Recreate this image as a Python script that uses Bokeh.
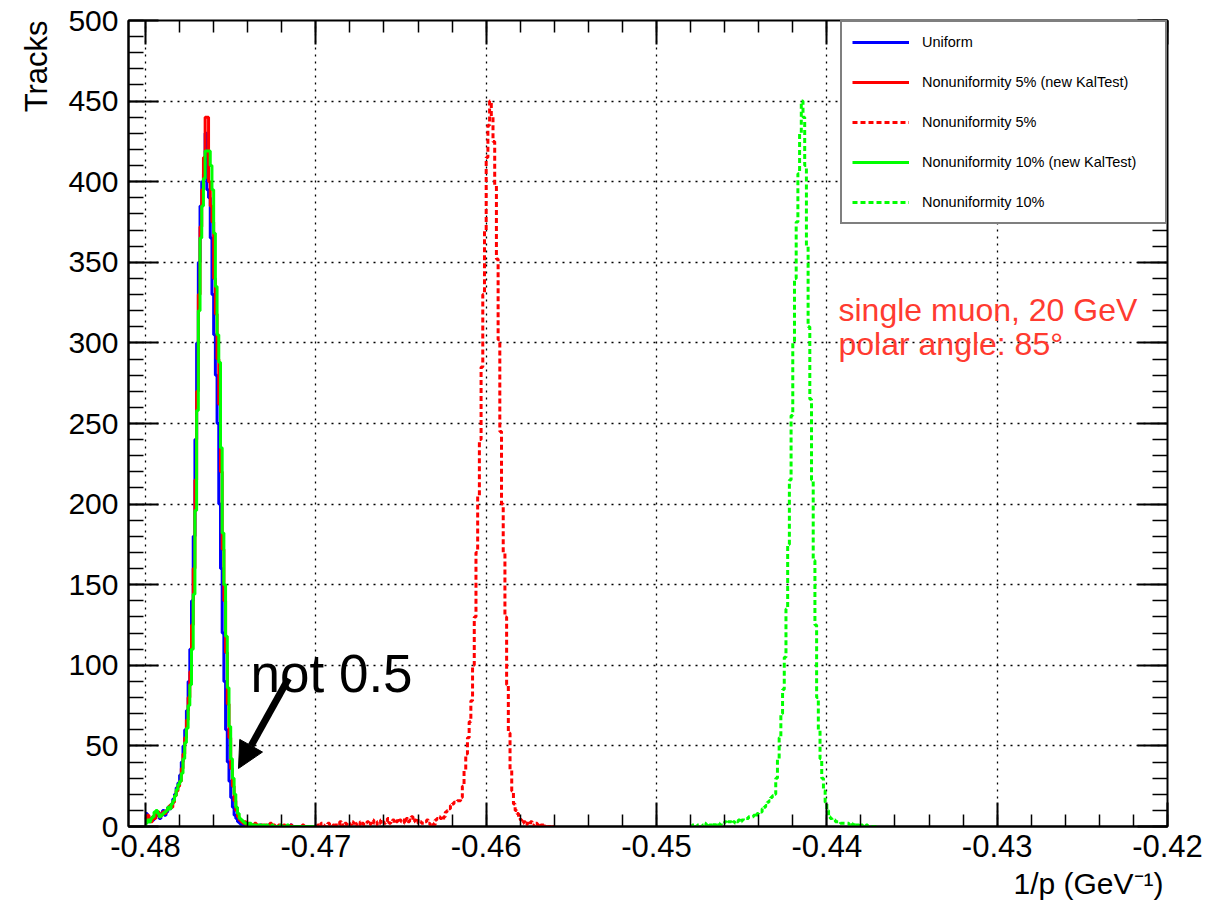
import numpy as np
from bokeh.plotting import figure
from bokeh.models import (Range1d, LinearAxis, FixedTicker, CustomJSTickFormatter,
                          Legend, LegendItem, Label, Arrow, NormalHead, Title)
from bokeh.embed import file_html
from bokeh.resources import INLINE

# ---------------- data ----------------
bin_width = 0.0001

uniform_start = -0.4800
uniform_counts = [
    8, 6, 3, 5, 4, 6, 9, 7, 5, 8, 10, 7, 9, 12, 11,
    14, 17, 20, 24, 27,
    32, 40, 50, 60, 72, 90, 110, 140, 180, 240,
    300, 350, 385, 400, 405, 430, 395, 390, 365, 330,
    305, 280, 250, 200, 160, 120, 90, 60, 40, 28,
    18, 12, 7, 5, 3, 2, 1, 2, 1, 0,
    1, 0, 0, 1, 0, 0, 0, 1, 0, 0,
    0, 0, 1, 0, 0, 0, 0, 0, 0, 0,
    0, 0, 0, 0, 0, 1, 0, 0, 0, 0,
    0, 0, 0, 0, 0, 0, 0, 0, 0, 0,
]

kal5_start = -0.4800
kal5_counts = [
    4, 7, 5, 3, 6, 5, 8, 9, 6, 7, 9, 8, 10, 11, 13,
    12, 15, 19, 22, 25,
    28, 36, 45, 55, 66, 80, 96, 125, 160, 215,
    270, 330, 372, 395, 415, 440, 440, 400, 385, 375,
    340, 318, 290, 262, 220, 172, 140, 108, 76, 55,
    36, 25, 16, 10, 6, 4, 3, 2, 3, 1,
    2, 1, 1, 0, 2, 1, 0, 0, 1, 0,
    1, 0, 0, 2, 0, 1, 0, 0, 1, 0,
    0, 1, 0, 0, 0, 1, 0, 0, 0, 0,
    0, 0, 1, 0, 0, 0, 0, 0, 0, 0,
]

non5_start = -0.4700
non5_counts = [
    0, 1, 0, 2, 1, 0, 1, 2, 1, 0,
    1, 2, 0, 1, 3, 1, 0, 2, 1, 2,
    1, 3, 2, 0, 2, 1, 3, 2, 1, 2,
    3, 1, 2, 4, 2, 1, 3, 2, 4, 3,
    2, 3, 5, 2, 3, 4, 2, 3, 5, 4,
    3, 4, 2, 5, 3, 4, 6, 3, 4, 5,
    2, 3, 2, 2, 3, 4, 2, 1, 2, 1,
    4, 5, 6, 5, 4, 6, 9, 10, 11, 13,
    14, 15, 15, 16, 16, 18, 25, 35, 45, 55,
    65, 78, 100, 130, 170, 205, 240, 285, 330, 370,
    415, 435, 450, 440, 425, 398, 352, 302, 245, 200,
    170, 130, 88, 58, 35, 22, 14, 10, 8, 6,
    4, 2, 3, 1, 2, 1, 3, 1, 0, 2,
    1, 0, 1, 2, 0, 1, 0, 0, 1, 0,
]

kal10_start = -0.4800
kal10_counts = [
    2, 4, 3, 5, 6, 9, 10, 8, 6, 7, 8, 9, 10, 12, 11,
    14, 16, 19, 23, 26,
    28, 33, 42, 52, 61, 75, 88, 110, 144, 196,
    258, 320, 365, 385, 402, 419, 419, 419, 410, 395,
    368, 335, 305, 288, 235, 182, 150, 118, 86, 62,
    42, 30, 20, 12, 8, 5, 4, 3, 2, 2,
    1, 2, 1, 1, 1, 0, 1, 1, 0, 1,
    0, 1, 0, 0, 1, 0, 0, 0, 0, 1,
    0, 0, 0, 1, 0, 0, 0, 0, 0, 0,
    0, 0, 0, 0, 0, 0, 0, 0, 0, 0,
]

non10_start = -0.4480
non10_counts = [
    0, 1, 0, 0, 1, 1, 0, 1, 2, 1,
    0, 1, 1, 2, 1, 1, 2, 1, 2, 2,
    3, 2, 3, 3, 2, 3, 2, 3, 4, 3,
    4, 5, 5, 5, 6, 6, 6, 7, 6, 8,
    9, 9, 11, 12, 13, 15, 16, 18, 19, 20,
    30, 42, 55, 70, 85, 105, 135, 175, 215, 255,
    300, 340, 375, 405, 430, 450, 440, 410, 360, 310,
    265, 215, 165, 125, 80, 60, 42, 30, 22, 15,
    10, 6, 5, 4, 4, 3, 3, 3, 2, 2,
    2, 2, 2, 1, 2, 1, 2, 1, 1, 0,
    1, 0, 0, 1, 0, 0, 0, 0, 0, 0,
]

series_labels = ["Uniform", "Nonuniformity 5% (new KalTest)", "Nonuniformity 5%",
                 "Nonuniformity 10% (new KalTest)", "Nonuniformity 10%"]

x_ticks = [-0.48, -0.47, -0.46, -0.45, -0.44, -0.43, -0.42]
x_tick_labels = ["-0.48", "-0.47", "-0.46", "-0.45", "-0.44", "-0.43", "-0.42"]
x_minor_step = 0.002
y_ticks = [0, 50, 100, 150, 200, 250, 300, 350, 400, 450, 500]
y_minor_step = 10

x_title = "1/p (GeV\u207b\u00b9)"
y_title = "Tracks"

FONT = "Liberation Sans"


def hist_xy(start, counts):
    edges = start + np.arange(len(counts) + 1) * bin_width
    vals = np.append(np.asarray(counts, dtype=float), counts[-1])
    return edges, vals


p = figure(width=1203, height=913,
           x_range=Range1d(-0.481, -0.42), y_range=Range1d(0, 500),
           output_backend="svg", toolbar_location=None,
           min_border_left=128, min_border_right=36,
           min_border_top=20, min_border_bottom=87)
p.background_fill_color = "white"
p.border_fill_color = "white"
p.outline_line_color = "black"
p.outline_line_width = 2

x_minor = [float(v) for v in np.round(np.arange(x_ticks[0], x_ticks[-1] + 1e-9, x_minor_step), 4)]
y_minor = [float(v) for v in np.arange(y_ticks[0], y_ticks[-1] + 1, y_minor_step)]
xt = FixedTicker(ticks=x_ticks, minor_ticks=x_minor)
yt = FixedTicker(ticks=y_ticks, minor_ticks=y_minor)

xfmt = CustomJSTickFormatter(args=dict(tvals=x_ticks, tlabels=x_tick_labels), code="""
let b = 0;
for (let i = 0; i < tvals.length; i++) {
  if (Math.abs(tvals[i] - tick) < Math.abs(tvals[b] - tick)) b = i;
}
return tlabels[b];
""")
yfmt = CustomJSTickFormatter(code="return tick.toFixed(0);")
blank_fmt = CustomJSTickFormatter(code="return '';")

xa = p.xaxis[0]
xa.ticker = xt
xa.formatter = xfmt
xa.major_tick_in = 24
xa.major_tick_out = 0
xa.minor_tick_in = 12
xa.minor_tick_out = 0
xa.major_tick_line_width = 2
xa.minor_tick_line_width = 1.5
xa.axis_line_width = 2
xa.major_label_text_font = FONT
xa.major_label_text_font_size = "31px"
xa.major_label_text_color = "black"
xa.major_label_standoff = 8

ya = p.yaxis[0]
ya.ticker = yt
ya.formatter = yfmt
ya.major_tick_in = 30
ya.major_tick_out = 0
ya.minor_tick_in = 15
ya.minor_tick_out = 0
ya.major_tick_line_width = 2
ya.minor_tick_line_width = 1.5
ya.axis_line_width = 2
ya.major_label_text_font = FONT
ya.major_label_text_font_size = "30px"
ya.major_label_text_color = "black"
ya.major_label_standoff = 10

top_ax = LinearAxis(ticker=xt, formatter=blank_fmt, major_label_text_font_size="8px",
                    major_label_standoff=0,
                    major_tick_in=24, major_tick_out=0, minor_tick_in=12, minor_tick_out=0,
                    major_tick_line_width=2, minor_tick_line_width=1.5, axis_line_color=None)
right_ax = LinearAxis(ticker=yt, formatter=blank_fmt, major_label_text_font_size="8px",
                      major_label_standoff=0,
                      major_tick_in=30, major_tick_out=0, minor_tick_in=15, minor_tick_out=0,
                      major_tick_line_width=2, minor_tick_line_width=1.5, axis_line_color=None)
p.add_layout(top_ax, "above")
p.add_layout(right_ax, "right")

for g in (p.xgrid[0], p.ygrid[0]):
    g.grid_line_color = "black"
    g.grid_line_dash = "2 5"
    g.grid_line_width = 1.3
p.xgrid[0].ticker = xt
p.ygrid[0].ticker = yt

# axis titles (ROOT style: right / top aligned)
p.add_layout(Title(text=y_title, align="right", text_font=FONT, text_font_size="31px",
                   text_font_style="normal", text_color="black", standoff=23), "left")
p.add_layout(Title(text=x_title, align="right", text_font=FONT, text_font_size="30px",
                   text_font_style="normal", text_color="black", standoff=10,
                   offset=4), "below")

# ---------------- histograms ----------------
specs = [
    (uniform_start, uniform_counts, "#0000FF", "solid", 3),
    (kal5_start, kal5_counts, "#FF0000", "solid", 3),
    (non5_start, non5_counts, "#FF0000", "5 3", 3),
    (kal10_start, kal10_counts, "#00FF00", "solid", 3),
    (non10_start, non10_counts, "#00FF00", "5 3", 3),
]
renderers = []
for start, counts, color, dash, lw in specs:
    ex, ey = hist_xy(start, counts)
    r = p.step(x=ex, y=ey, mode="after", line_color=color, line_width=lw, line_dash=dash)
    renderers.append(r)

legend = Legend(items=[LegendItem(label=lab, renderers=[r]) for lab, r in zip(series_labels, renderers)],
                location="top_right", margin=0, padding=10, spacing=20,
                glyph_width=57, glyph_height=20, label_height=20, label_width=233,
                label_standoff=13, label_text_font=FONT, label_text_font_size="14.5px",
                label_text_color="black",
                border_line_color="black", border_line_width=2,
                background_fill_color="white", background_fill_alpha=1.0)
p.add_layout(legend)

# ---------------- annotations ----------------
p.add_layout(Label(x=-0.439316, y=320.7, text="single muon, 20 GeV", text_align="left",
                   text_baseline="alphabetic", text_font=FONT, text_font_size="32px",
                   text_color="#FF3B30"))
p.add_layout(Label(x=-0.439316, y=299.6, text="polar angle: 85°", text_align="left",
                   text_baseline="alphabetic", text_font=FONT, text_font_size="32px",
                   text_color="#FF3B30"))

p.add_layout(Label(x=-0.473837, y=94.9, text="not 0.5", text_align="left",
                   text_baseline="alphabetic", text_font=FONT, text_font_size="53px",
                   text_color="black"))
p.add_layout(Arrow(x_start=-0.471607, y_start=91.8, x_end=-0.474542, y_end=36.0,
                   line_color="black", line_width=7,
                   end=NormalHead(size=26, fill_color="black", line_color="black")))

open("out.html", "w").write(file_html(p, INLINE))
